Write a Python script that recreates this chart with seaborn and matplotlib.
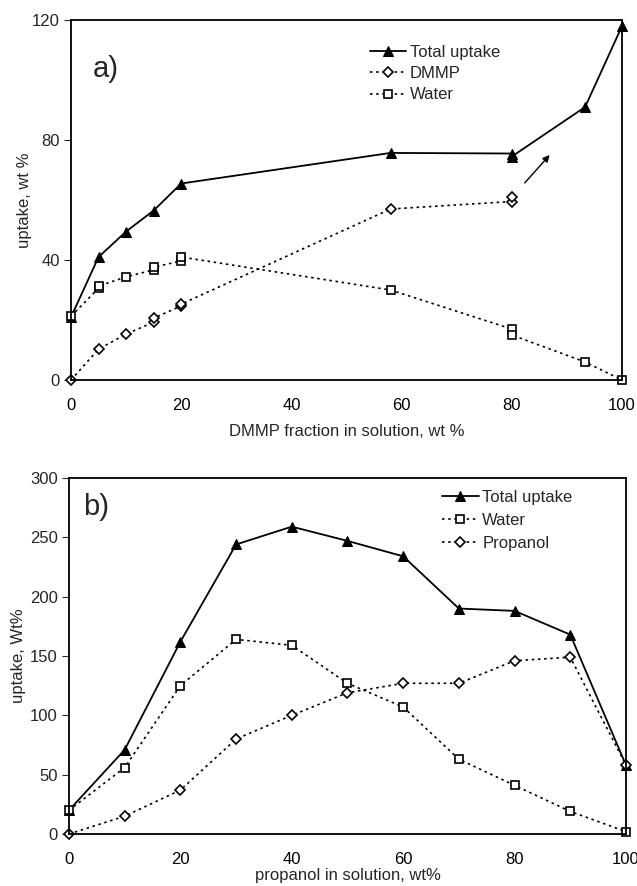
import matplotlib
matplotlib.use("Agg")
import matplotlib.pyplot as plt
import seaborn as sns
import pandas as pd

# Panel a data
a_total_x = [0, 5, 10, 15, 20, 58, 80, 80, 93.3, 100]
a_total_y = [21, 41, 49.5, 56.5, 65.5, 75.7, 75.5, 74.5, 91, 118]
a_dmmp_x = [0, 5, 10, 15, 15, 20, 20, 58, 80, 80]
a_dmmp_y = [0, 10.3, 15.3, 19.3, 20.6, 24.7, 25.3, 57, 59.5, 61]
a_water_x = [0, 5, 5, 10, 15, 15, 20, 20, 58, 80, 80, 93.3, 100]
a_water_y = [21.3, 30.6, 31.3, 34.4, 36.7, 37.6, 39.7, 41, 30, 17, 15, 6, 0]

# Panel b data
b_x = [0, 10, 20, 30, 40, 50, 60, 70, 80, 90, 100]
b_total = [20, 71, 162, 244, 259, 247, 234, 190, 188, 168, 58]
b_water = [20, 56, 125, 164, 159, 127, 107, 63, 41, 19, 2]
b_prop = [0, 15, 37, 80, 100, 119, 127, 127, 146, 149, 58]

sns.set_theme(style="white")
plt.rcParams['font.family'] = ['Liberation Sans', 'DejaVu Sans']

fig = plt.figure(figsize=(6.37, 8.86), dpi=100)
axa = fig.add_axes([0.1115, 0.5711, 0.865, 0.4063])
axb = fig.add_axes([0.1083, 0.0587, 0.8744, 0.4018])

dot = (0, (1.5, 2.2))
solid_kw = dict(color='black', linewidth=1.3, marker='^', markersize=7,
                markerfacecolor='black', markeredgecolor='black')
open_kw = dict(color='black', linewidth=1.2, linestyle=dot, markersize=6,
               markerfacecolor='white', markeredgecolor='black', markeredgewidth=1.2)

def draw(ax, x, y, label, kind, marker=None):
    df = pd.DataFrame({'x': x, 'y': y})
    if kind == 'solid':
        sns.lineplot(data=df, x='x', y='y', ax=ax, estimator=None, sort=False,
                     label=label, clip_on=False, **solid_kw)
    else:
        sns.lineplot(data=df, x='x', y='y', ax=ax, estimator=None, sort=False,
                     label=label, marker=marker, clip_on=False, **open_kw)

draw(axa, a_total_x, a_total_y, 'Total uptake', 'solid')
draw(axa, a_dmmp_x, a_dmmp_y, 'DMMP', 'open', 'D')
draw(axa, a_water_x, a_water_y, 'Water', 'open', 's')

draw(axb, b_x, b_total, 'Total uptake', 'solid')
draw(axb, b_x, b_water, 'Water', 'open', 's')
draw(axb, b_x, b_prop, 'Propanol', 'open', 'D')

for line in axa.lines + axb.lines:
    if line.get_marker() == 'D':
        line.set_markersize(5)

axa.set_xlim(0, 100)
axa.set_ylim(0, 120)
axa.set_xticks([0, 20, 40, 60, 80, 100])
axa.set_yticks([0, 40, 80, 120])
axa.set_xlabel('DMMP fraction in solution, wt %', fontsize=12, labelpad=8)
axa.set_ylabel('uptake, wt %', fontsize=12, labelpad=0)
axa.text(4, 101, 'a)', fontsize=21)
axa.annotate('', xy=(87.2, 75.7), xytext=(82, 65),
             arrowprops=dict(arrowstyle='-|>', color='black', lw=1.0, mutation_scale=10))

axb.set_xlim(0, 100)
axb.set_ylim(0, 300)
axb.set_xticks([0, 20, 40, 60, 80, 100])
axb.set_yticks([0, 50, 100, 150, 200, 250, 300])
axb.set_xlabel('propanol in solution, wt%', fontsize=12, labelpad=1)
axb.set_ylabel('uptake, Wt%', fontsize=12, labelpad=3)
axb.text(2.5, 269, 'b)', fontsize=21)

for ax in (axa, axb):
    for s in ax.spines.values():
        s.set_visible(True)
        s.set_color('black')
        s.set_linewidth(1.3)
    ax.tick_params(axis='x', direction='in', length=4, width=0.8,
                   labelsize=12, pad=13, colors='black')
    ax.tick_params(axis='x', color='gray')
    ax.tick_params(axis='y', direction='out', length=5, width=0.8,
                   labelsize=12, pad=3, left=True)
    ax.grid(False)

axa.legend(loc='upper left', bbox_to_anchor=(0.53, 0.95), frameon=False,
           fontsize=12, handlelength=2.2, handletextpad=0.2, labelspacing=0.38,
           borderaxespad=0)
axb.legend(loc='upper left', bbox_to_anchor=(0.658, 0.985), frameon=False,
           fontsize=12, handlelength=2.2, handletextpad=0.2, labelspacing=0.48,
           borderaxespad=0)

fig.savefig('out.png', dpi=100)
